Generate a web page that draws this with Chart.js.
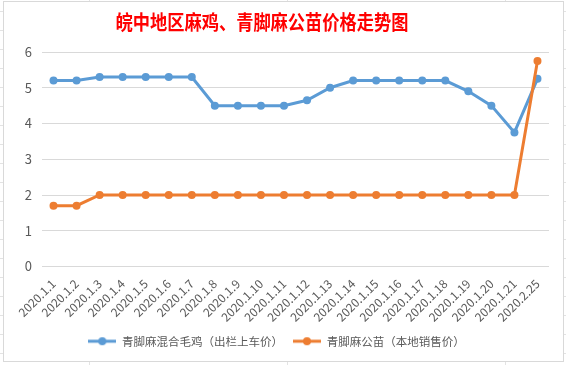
<!DOCTYPE html>
<html>
<head>
<meta charset="utf-8">
<script src="https://cdn.jsdelivr.net/npm/chart.js@4/dist/chart.umd.min.js"></script>
<style>
  html, body { margin: 0; padding: 0; }
  body {
    width: 566px; height: 365px; overflow: hidden; position: relative;
    background: #fff repeating-linear-gradient(to bottom, transparent 0, transparent 11px, #e3e3e3 11px, #e3e3e3 12px, transparent 12px, transparent 19px);
  }
  .col { position: absolute; top: 0; width: 1px; height: 365px; background: #e3e3e3; }
  .chart-box {
    position: absolute; left: 3px; top: 1px; width: 559px; height: 359px;
    border: 1px solid #d9d9d9; background: #fff;
  }
  canvas { display: block; }
</style>
</head>
<body>
<div class="col" style="left:89px"></div>
<div class="col" style="left:287px"></div>
<div class="col" style="left:505px"></div>
<div class="chart-box">
  <canvas id="priceChart" width="559" height="359"></canvas>
</div>
<script>
// data
const titleText = '皖中地区麻鸡、青脚麻公苗价格走势图';
const dates = ['2020.1.1', '2020.1.2', '2020.1.3', '2020.1.4', '2020.1.5', '2020.1.6', '2020.1.7',
  '2020.1.8', '2020.1.9', '2020.1.10', '2020.1.11', '2020.1.12', '2020.1.13', '2020.1.14',
  '2020.1.15', '2020.1.16', '2020.1.17', '2020.1.18', '2020.1.19', '2020.1.20', '2020.1.21', '2020.2.25'];
const mixedChickenName = '青脚麻混合毛鸡（出栏上车价）';
const mixedChicken = [5.2, 5.2, 5.3, 5.3, 5.3, 5.3, 5.3, 4.5, 4.5, 4.5, 4.5, 4.65, 5.0, 5.2,
  5.2, 5.2, 5.2, 5.2, 4.9, 4.5, 3.75, 5.25];
const roosterChickName = '青脚麻公苗（本地销售价）';
const roosterChick = [1.7, 1.7, 2, 2, 2, 2, 2, 2, 2, 2, 2, 2, 2, 2,
  2, 2, 2, 2, 2, 2, 2, 5.75];
const yTicks = [0, 1, 2, 3, 4, 5, 6];

const BLUE = '#5B9BD5';
const ORANGE = '#ED7D31';
const TEXT = '#595959';
const GRID = '#d9d9d9';

// little line-with-dot picture for the legend, like excel
function legendIcon(color) {
  const c = document.createElement('canvas');
  c.width = 28; c.height = 10;
  const g = c.getContext('2d');
  g.strokeStyle = color;
  g.lineWidth = 3;
  g.beginPath();
  g.moveTo(0, 5);
  g.lineTo(28, 5);
  g.stroke();
  g.fillStyle = color;
  g.beginPath();
  g.arc(14, 5, 4, 0, Math.PI * 2);
  g.fill();
  return c;
}

const titlePlugin = {
  id: 'offsetTitle',
  afterDraw(chart) {
    const ctx = chart.ctx;
    ctx.save();
    ctx.font = 'bold 20px "Noto Sans CJK SC", sans-serif';
    ctx.fillStyle = '#ff0000';
    ctx.textAlign = 'center';
    ctx.textBaseline = 'middle';
    ctx.fillText(titleText, 258, 20, 293);
    ctx.restore();
  }
};

const ctx = document.getElementById('priceChart').getContext('2d');
new Chart(ctx, {
  type: 'line',
  data: {
    labels: dates,
    datasets: [
      {
        label: roosterChickName,
        data: roosterChick,
        borderColor: ORANGE,
        backgroundColor: ORANGE,
        borderWidth: 3,
        pointRadius: 4,
        pointHoverRadius: 4,
        pointBorderWidth: 0,
        tension: 0,
        order: 0
      },
      {
        label: mixedChickenName,
        data: mixedChicken,
        borderColor: BLUE,
        backgroundColor: BLUE,
        borderWidth: 3,
        pointRadius: 4,
        pointHoverRadius: 4,
        pointBorderWidth: 0,
        tension: 0,
        order: 1
      }
    ]
  },
  options: {
    responsive: false,
    animation: false,
    layout: { padding: { top: 50, right: 14, bottom: 4, left: 0 } },
    scales: {
      x: {
        offset: true,
        grid: { display: false },
        border: { display: false },
        ticks: {
          color: TEXT,
          font: { size: 12, family: '"Noto Sans CJK SC", sans-serif' },
          minRotation: 45,
          maxRotation: 45,
          autoSkip: false,
          padding: 2
        },
        afterFit(scale) { scale.height = 59; }
      },
      y: {
        min: 0,
        max: 6,
        afterBuildTicks(scale) { scale.ticks = yTicks.map(v => ({ value: v })); },
        grid: { color: GRID, lineWidth: 1, drawTicks: false },
        border: { display: false },
        ticks: {
          color: TEXT,
          font: { size: 13, family: '"Noto Sans CJK SC", sans-serif' },
          padding: 10
        },
        afterFit(scale) { scale.width = 38; }
      }
    },
    plugins: {
      title: { display: false },
      tooltip: { enabled: false },
      legend: {
        position: 'bottom',
        labels: {
          usePointStyle: true,
          pointStyleWidth: 28,
          padding: 10,
          color: TEXT,
          font: { size: 11.5, family: '"Noto Sans CJK SC", sans-serif' },
          generateLabels() {
            return [
              { text: mixedChickenName, pointStyle: legendIcon(BLUE), fillStyle: BLUE, strokeStyle: BLUE, fontColor: TEXT, lineWidth: 0, datasetIndex: 1, hidden: false },
              { text: roosterChickName, pointStyle: legendIcon(ORANGE), fillStyle: ORANGE, strokeStyle: ORANGE, fontColor: TEXT, lineWidth: 0, datasetIndex: 0, hidden: false }
            ];
          }
        }
      }
    }
  },
  plugins: [titlePlugin]
});
</script>
</body>
</html>
